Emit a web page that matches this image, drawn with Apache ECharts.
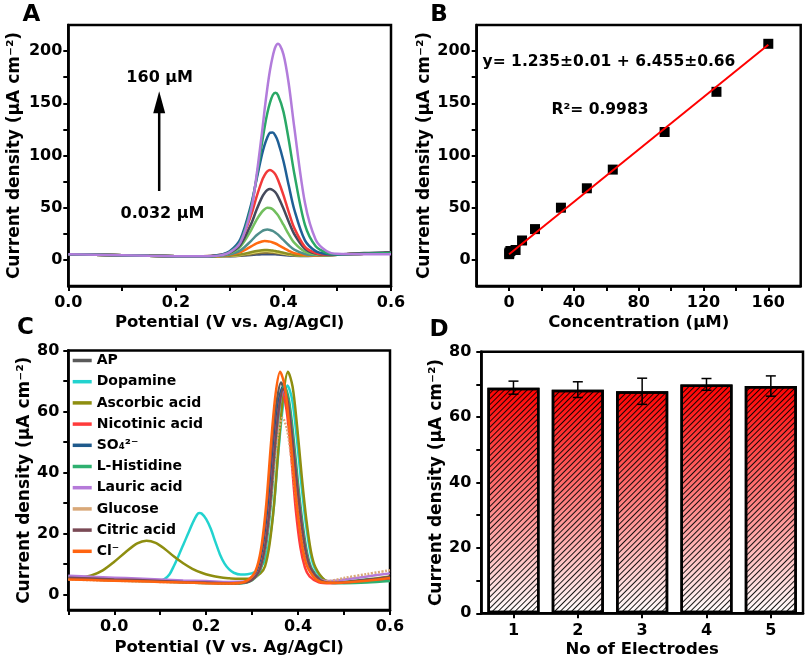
<!DOCTYPE html>
<html><head><meta charset="utf-8">
<script src="https://cdn.jsdelivr.net/npm/echarts@6/dist/echarts.min.js"></script>
<style>html,body{margin:0;padding:0;background:#fff}#c{width:808px;height:663px}</style>
</head><body><div id="c"></div><script>
// ---------- Panel A: DPV curves at increasing concentration ----------
const potentialA = [0, 0.05, 0.1, 0.15, 0.2, 0.25, 0.28, 0.3, 0.32, 0.34, 0.35, 0.36, 0.365, 0.37, 0.375, 0.38, 0.385, 0.39, 0.4, 0.41, 0.42, 0.44, 0.46, 0.48, 0.5, 0.55, 0.6];
const a0_032 = [5.5,5.0,4.5,4.0,3.6,3.4, 3.5,3.6,3.9,4.7,5.1,5.4,5.5,5.5,5.5,5.4,5.3,5.1,4.7,4.3,4.0,3.8,4.1,4.5,5.0,6.0,6.5];
const a0_16  = [5.5,5.0,4.5,4.0,3.6,3.4, 3.6,3.7,4.3,5.5,6.3,6.8,6.95,7.0,6.95,6.8,6.6,6.3,5.6,4.9,4.4,3.9,4.1,4.5,5.0,6.0,6.5];
const a0_8   = [5.5,5.0,4.5,4.0,3.6,3.4, 3.6,3.9,4.8,6.6,7.5,8.3,8.5,8.5,8.3,8.0,7.6,7.1,6.2,5.3,4.6,4.0,4.1,4.5,5.0,6.0,6.5];
const a4     = [5.5,5.0,4.5,4.0,3.6,3.4, 3.6,4.0,5.1,7.4,8.6,9.3,9.5,9.5,9.3,9.0,8.5,8.0,6.8,5.7,4.8,4.2,4.2,4.5,5.0,6.0,6.5];
const a8     = [5.5,5.0,4.5,4.0,3.6,3.4, 3.8,4.7,7.4,12.9,15.8,17.6,18.0,17.9,17.5,16.7,15.7,14.4,11.5,8.7,6.5,4.7,4.3,4.5,5.0,6.0,6.5];
const a16    = [5.5,5.0,4.5,4.0,3.6,3.4, 4.0,5.2,9.1,18.3,23.6,27.5,28.6,29,28.6,27.7,26.1,24.2,19.1,14.0,9.9,5.7,4.6,4.5,5.0,6.0,6.5];
const a32    = [5.5,5.0,4.5,4.0,3.6,3.4, 4.2,6.3,12.8,28.6,38.4,46.0,48.6,49.9,49.7,48.4,45.8,42.6,33.7,24.4,16.5,7.8,5.2,4.6,5.0,6.0,6.5];
const a48    = [5.5,5.0,4.5,4.0,3.6,3.4, 4.3,6.7,14.5,34.5,48.0,59.9,64.1,67.0,68,67.0,64.8,60.6,49.3,36.4,24.8,10.6,6.0,4.9,5.0,6.6,7.4];
const a64    = [5.5,5.0,4.5,4.0,3.6,3.4, 4.6,7.6,17.5,43.1,60.4,75.7,81.1,84.8,86,84.8,81.9,76.5,62.1,45.6,30.7,12.5,6.6,5.1,5.0,6.0,6.5];
const a96    = [5.5,5.0,4.5,4.0,3.6,3.4, 4.6,8.4,20.1,53.3,77.0,100.7,110.2,117.3,121.8,122,119.0,113.1,94.7,71.0,48.5,18.7,8.4,5.6,5.0,6.0,6.5];
const a128   = [5.5,5.0,4.5,4.0,3.6,3.4, 4.3,7.6,17.6,50.5,78.6,111.5,127.1,140.4,150.6,157.7,160,157.7,142.0,114.6,83.3,33.5,13.0,6.8,5.3,6.0,6.5];
const a160   = [5.5,5.0,4.5,4.0,3.6,3.4, 4.1,7.2,16.7,48.3,80.8,121.5,143.9,164.3,181.6,194.8,203.9,207,196.8,168.3,127.6,54.7,19.4,8.6,5.8,5.5,5.5];
const curvesA = [a0_032, a0_16, a0_8, a4, a8, a16, a32, a48, a64, a96, a128, a160];
const namesA = ['0.032','0.16','0.8','4','8','16','32','48','64','96','128','160'];
const colorsA = ['#3B4F7A','#86733A','#E3DC6E','#8C9023','#FF6A10','#4F8F8C','#72BF5E','#454A5C','#F23A3A','#1F5F96','#2AA866','#B27CDB'];

// ---------- Panel B: calibration ----------
const concB = [0.032, 0.16, 0.8, 4, 8, 16, 32, 48, 64, 96, 128, 160];
const densB = [5.5, 7, 8.5, 9.5, 18.6, 29.5, 50, 68.6, 86.5, 122.5, 161, 207];
const fitX = [0, 160];
const fitY = [5.5, 206];

// ---------- Panel C: interference ----------
const cAP = [[-0.1,5.5],[-0.05,5.3],[0,5.0],[0.05,4.8],[0.1,4.5],[0.15,4.2],[0.2,4.0],[0.25,3.8],[0.283,4.1],[0.303,6.1],[0.313,9.1],[0.323,16.0],[0.333,28.8],[0.343,47.2],[0.353,62.6],[0.363,69.5],[0.373,64.9],[0.383,52.4],[0.393,37.0],[0.403,23.5],[0.413,13.7],[0.423,8.6],[0.443,4.8],[0.463,3.9],[0.5,4.0],[0.55,4.5],[0.6,5.5]];
const cDopamine = [[-0.1,6.0],[-0.05,5.4],[0,5.0],[0.05,4.7],[0.1,4.6],[0.11,5.2],[0.12,6.6],[0.13,9.5],[0.14,12.8],[0.15,16.3],[0.16,19.8],[0.17,23.3],[0.18,26.2],[0.185,26.8],[0.19,26.6],[0.2,24.8],[0.21,21.6],[0.22,17.3],[0.23,13.2],[0.24,10.2],[0.25,8.3],[0.26,7.2],[0.275,6.6],[0.29,6.7],[0.307,7.5],[0.317,8.8],[0.327,11.0],[0.337,17.0],[0.347,28.4],[0.357,46.5],[0.367,61.7],[0.377,68.5],[0.387,64.0],[0.397,51.7],[0.407,36.5],[0.417,23.2],[0.427,13.5],[0.437,8.5],[0.457,4.8],[0.477,3.9],[0.5,4.2],[0.55,5.0],[0.6,5.5]];
const cAscorbic = [[-0.1,5.5],[-0.075,5.6],[-0.05,6.3],[-0.025,8.0],[0,10.8],[0.025,14.0],[0.05,16.8],[0.07,17.7],[0.09,17.0],[0.11,15.0],[0.13,12.5],[0.15,10.3],[0.17,8.5],[0.19,7.2],[0.21,6.3],[0.23,5.7],[0.25,5.4],[0.27,5.2],[0.298,5.3],[0.318,7.0],[0.328,9.3],[0.338,16.6],[0.348,30.1],[0.358,49.5],[0.368,65.7],[0.378,73],[0.388,68.2],[0.398,55.0],[0.408,38.7],[0.418,24.6],[0.428,14.2],[0.438,8.9],[0.458,4.8],[0.478,3.9],[0.5,4.2],[0.55,5.0],[0.6,6.0]];
const cNicotinic = [[-0.1,5.3],[-0.05,5.1],[0,4.8],[0.05,4.6],[0.1,4.4],[0.15,4.2],[0.2,4.0],[0.25,3.8],[0.285,4.1],[0.305,6.0],[0.315,8.9],[0.325,15.5],[0.335,27.8],[0.345,45.5],[0.355,60.4],[0.365,67],[0.375,60.4],[0.385,45.5],[0.395,27.8],[0.405,15.5],[0.415,8.9],[0.425,6.0],[0.445,4.1],[0.47,3.8],[0.5,4.0],[0.55,4.5],[0.6,5.0]];
const cSO4 = [[-0.1,5.4],[-0.05,5.2],[0,4.9],[0.05,4.7],[0.1,4.5],[0.15,4.2],[0.2,4.0],[0.25,3.8],[0.286,4.1],[0.306,6.0],[0.316,8.9],[0.326,15.7],[0.336,28.2],[0.346,46.2],[0.356,61.3],[0.366,68],[0.376,63.5],[0.386,51.3],[0.396,36.2],[0.406,23.1],[0.416,13.4],[0.426,8.5],[0.446,4.8],[0.466,3.9],[0.5,4.0],[0.55,4.8],[0.6,5.5]];
const cHistidine = [[-0.1,5.2],[-0.05,5.0],[0,4.7],[0.05,4.5],[0.1,4.3],[0.15,4.0],[0.2,3.8],[0.25,3.6],[0.29,4.1],[0.31,6.1],[0.32,9.0],[0.33,15.8],[0.34,28.4],[0.35,46.5],[0.36,61.7],[0.37,68.5],[0.38,64.0],[0.39,51.7],[0.4,36.5],[0.41,23.2],[0.42,13.5],[0.43,8.5],[0.45,4.8],[0.47,3.9],[0.5,3.8],[0.55,4.0],[0.6,4.5]];
const cLauric = [[-0.1,6.2],[-0.05,5.9],[0,5.6],[0.05,5.3],[0.1,5.0],[0.15,4.7],[0.2,4.5],[0.25,4.2],[0.288,4.4],[0.308,6.2],[0.318,8.9],[0.328,15.5],[0.338,27.8],[0.348,45.5],[0.358,60.4],[0.368,67],[0.378,62.6],[0.388,50.6],[0.398,35.7],[0.408,22.8],[0.418,13.3],[0.428,8.4],[0.448,5.0],[0.468,4.5],[0.5,5.0],[0.55,6.0],[0.6,7.0]];
const cGlucose = [[-0.1,5.0],[-0.05,4.8],[0,4.6],[0.05,4.4],[0.1,4.2],[0.15,4.0],[0.2,3.8],[0.25,3.7],[0.286,4.0],[0.306,5.7],[0.316,8.1],[0.326,13.8],[0.336,24.4],[0.346,39.6],[0.356,52.3],[0.366,58],[0.376,54.2],[0.386,43.9],[0.396,31.2],[0.406,20.1],[0.416,11.9],[0.426,7.8],[0.446,4.6],[0.466,4.5],[0.5,5.5],[0.55,6.8],[0.6,8.0]];
const cCitric = [[-0.1,5.6],[-0.05,5.3],[0,5.0],[0.05,4.8],[0.1,4.5],[0.15,4.2],[0.2,4.0],[0.25,3.8],[0.288,4.1],[0.308,6.0],[0.318,8.9],[0.328,15.6],[0.338,28.0],[0.348,45.8],[0.358,60.8],[0.368,67.5],[0.378,63.0],[0.388,50.9],[0.398,36.0],[0.408,22.9],[0.418,13.4],[0.428,8.5],[0.448,4.8],[0.468,3.9],[0.5,4.0],[0.55,4.8],[0.6,5.8]];
const cCl = [[-0.1,5.0],[-0.05,4.8],[0,4.6],[0.05,4.4],[0.1,4.2],[0.15,4.0],[0.2,3.8],[0.25,3.7],[0.281,4.1],[0.301,6.2],[0.311,9.3],[0.321,16.6],[0.331,30.1],[0.341,49.5],[0.351,65.7],[0.361,73],[0.371,68.2],[0.381,55.0],[0.391,38.7],[0.401,24.6],[0.411,14.2],[0.421,8.9],[0.441,4.8],[0.461,3.9],[0.5,4.0],[0.55,4.6],[0.6,5.5]];
const curvesC = [cAP, cDopamine, cAscorbic, cNicotinic, cSO4, cHistidine, cLauric, cGlucose, cCitric, cCl];
const namesC = ['AP','Dopamine','Ascorbic acid','Nicotinic acid','SO\u2084\u00B2\u207B','L-Histidine','Lauric acid','Glucose','Citric acid','Cl\u207B'];
const colorsC = ['#5A5A5A','#22D3CF','#8E8E10','#FF3B3B','#1F5A8C','#2FB070','#B57AD9','#D9A878','#7A4A55','#FF6410'];

// ---------- Panel D: reproducibility ----------
const electrodes = ['1','2','3','4','5'];
const densD = [69.0, 68.4, 67.9, 70.0, 69.5];
const errD = [2.0, 2.4, 4.0, 1.8, 3.1];

// ---------- Tick values ----------
const ticksAx = [0,0.1,0.2,0.3,0.4,0.5,0.6];
const labelsAx = [0,0.2,0.4,0.6];
const ticksAy = [0,25,50,75,100,125,150,175,200];
const labelsAy = [0,50,100,150,200];
const ticksBx = [0,20,40,60,80,100,120,140,160];
const labelsBx = [0,40,80,120,160];
const ticksCx = [-0.1,0,0.1,0.2,0.3,0.4,0.5,0.6];
const labelsCx = [0,0.2,0.4,0.6];
const ticksCy = [0,10,20,30,40,50,60,70,80];
const labelsCy = [0,20,40,60,80];

const FONT = '"DejaVu Sans", sans-serif';
const K = '#000';
const YNAME = 'Current density (\u03BCA cm\u207B\u00B2)';

function vAxis(o) {
  return {
    type: 'value', gridIndex: o.grid, min: o.min, max: o.max,
    name: o.name, nameLocation: 'middle', nameGap: o.nameGap, nameRotate: o.rotate,
    nameTextStyle: {color: K, fontFamily: FONT, fontWeight: 'bold', fontSize: o.rotate ? 17 : 16.5},
    axisLine: {show: true, onZero: false, lineStyle: {color: K, width: 2.5}},
    axisTick: {show: true, customValues: o.ticks, length: 5, lineStyle: {color: K, width: 2}},
    axisLabel: {customValues: o.labels, formatter: o.fmt, showMinLabel: true, showMaxLabel: true,
      color: K, fontFamily: FONT, fontWeight: 'bold', fontSize: 16, margin: o.margin},
    splitLine: {show: false}
  };
}
const fmt1 = v => Number(v).toFixed(1);
const fmt0 = v => String(Math.round(v));

const grids = [
  {left: 68.3, top: 25, width: 322.7, height: 261},
  {left: 476.7, top: 25, width: 324, height: 261},
  {left: 68.3, top: 350.5, width: 321.7, height: 259.5},
  {left: 481.3, top: 351.7, width: 321.7, height: 261.6}
].map(g => Object.assign(g, {show: true, borderColor: K, borderWidth: 2.5, backgroundColor: 'transparent'}));

const xAxes = [
  vAxis({grid: 0, min: 0, max: 0.6, ticks: ticksAx, labels: labelsAx, fmt: fmt1, margin: 9, name: 'Potential (V vs. Ag/AgCl)', nameGap: 28}),
  vAxis({grid: 1, min: -20, max: 180, ticks: ticksBx, labels: labelsBx, fmt: fmt0, margin: 9, name: 'Concentration (\u03BCM)', nameGap: 28}),
  vAxis({grid: 2, min: -0.1, max: 0.6, ticks: ticksCx, labels: labelsCx, fmt: fmt1, margin: 9, name: 'Potential (V vs. Ag/AgCl)', nameGap: 29}),
  {type: 'category', gridIndex: 3, data: electrodes, boundaryGap: true,
   name: 'No of Electrodes', nameLocation: 'middle', nameGap: 28,
   nameTextStyle: {color: K, fontFamily: FONT, fontWeight: 'bold', fontSize: 16.5},
   axisLine: {show: true, lineStyle: {color: K, width: 2.5}},
   axisTick: {show: true, alignWithLabel: true, length: 5, lineStyle: {color: K, width: 2}},
   axisLabel: {color: K, fontFamily: FONT, fontWeight: 'bold', fontSize: 16, margin: 10},
   splitLine: {show: false}}
];
const yAxes = [
  vAxis({grid: 0, min: -25, max: 225, ticks: ticksAy, labels: labelsAy, fmt: fmt0, margin: 6, name: YNAME, nameGap: 45, rotate: 90}),
  vAxis({grid: 1, min: -25, max: 225, ticks: ticksAy, labels: labelsAy, fmt: fmt0, margin: 6, name: YNAME, nameGap: 42, rotate: 90}),
  vAxis({grid: 2, min: -5, max: 80, ticks: ticksCy, labels: labelsCy, fmt: fmt0, margin: 9, name: YNAME, nameGap: 34, rotate: 90}),
  vAxis({grid: 3, min: 0, max: 80, ticks: ticksCy, labels: labelsCy, fmt: fmt0, margin: 10, name: YNAME, nameGap: 33, rotate: 90})
];

const series = [];
curvesA.forEach((ys, i) => {
  series.push({type: 'line', name: namesA[i] + ' \u03BCM', xAxisIndex: 0, yAxisIndex: 0,
    data: potentialA.map((x, j) => [x, ys[j]]), symbol: 'none', smooth: 0.3,
    lineStyle: {color: colorsA[i], width: 2.5}, itemStyle: {color: colorsA[i]}, z: 2 + i});
});
series.push({type: 'scatter', name: 'measured', xAxisIndex: 1, yAxisIndex: 1,
  data: concB.map((c, i) => [c, densB[i]]), symbol: 'rect', symbolSize: 10, itemStyle: {color: K, opacity: 1}, z: 3});
series.push({type: 'line', name: 'fit', xAxisIndex: 1, yAxisIndex: 1,
  data: fitX.map((x, i) => [x, fitY[i]]), symbol: 'none', lineStyle: {color: '#FF0000', width: 2}, z: 4});
curvesC.forEach((pts, i) => {
  series.push({type: 'line', name: namesC[i], xAxisIndex: 2, yAxisIndex: 2,
    data: pts, symbol: 'none', smooth: 0.3,
    lineStyle: {color: colorsC[i], width: 2.5, type: namesC[i] === 'Glucose' ? [2, 1.5] : 'solid'},
    itemStyle: {color: colorsC[i]}, z: 2 + i});
});
series.push({type: 'bar', name: 'electrodes', xAxisIndex: 3, yAxisIndex: 3, data: densD, barWidth: '81%',
  itemStyle: {
    color: {type: 'linear', x: 0, y: 0, x2: 0, y2: 1, colorStops: [{offset: 0, color: '#FF0000'}, {offset: 1, color: '#FFFFFF'}]},
    borderColor: K, borderWidth: 2.5,
    decal: {symbol: 'rect', symbolSize: 1, dashArrayX: [1, 0], dashArrayY: [1, 3], rotation: -Math.PI / 4, color: 'rgba(0,0,0,0.9)', backgroundColor: null}
  }, z: 2});
series.push({type: 'custom', name: 'error', xAxisIndex: 3, yAxisIndex: 3,
  data: densD.map((v, i) => [i, v + errD[i], v - errD[i]]),
  renderItem: function (params, api) {
    const hi = api.coord([api.value(0), api.value(1)]);
    const lo = api.coord([api.value(0), api.value(2)]);
    const w = 5;
    const st = {stroke: K, lineWidth: 1.5};
    return {type: 'group', children: [
      {type: 'line', shape: {x1: hi[0], y1: hi[1], x2: lo[0], y2: lo[1]}, style: st},
      {type: 'line', shape: {x1: hi[0] - w, y1: hi[1], x2: hi[0] + w, y2: hi[1]}, style: st},
      {type: 'line', shape: {x1: lo[0] - w, y1: lo[1], x2: lo[0] + w, y2: lo[1]}, style: st}
    ]};
  }, z: 5});

const chart = echarts.init(document.getElementById('c'), null, {renderer: 'canvas', width: 808, height: 663});
const option = {
  animation: false,
  backgroundColor: '#fff',
  textStyle: {fontFamily: FONT},
  grid: grids, xAxis: xAxes, yAxis: yAxes, series: series,
  legend: {data: namesC, orient: 'vertical', left: 72.7, top: 353.5, padding: 0,
    icon: 'rect', itemWidth: 19, itemHeight: 3.5, itemGap: 7.2,
    textStyle: {color: K, fontFamily: FONT, fontWeight: 'bold', fontSize: 14, lineHeight: 14}}
};
chart.setOption(option);

// annotations
const arrowX = 0.169, arrowFromY = 66, arrowToY = 161.5;
const pBase = chart.convertToPixel({gridIndex: 0}, [arrowX, arrowFromY]);
const pTip = chart.convertToPixel({gridIndex: 0}, [arrowX, arrowToY]);
function txt(s, x, y, size) {
  return {type: 'text', x: x, y: y, z: 100, style: {text: s, fill: K, font: 'bold ' + size + 'px ' + FONT, textAlign: 'center', textVerticalAlign: 'middle'}};
}
chart.setOption({graphic: [
  txt('A', 31.5, 15, 23), txt('B', 439, 15, 23), txt('C', 25.5, 328, 23), txt('D', 439, 330, 23),
  txt('160 \u03BCM', 159.7, 78, 16), txt('0.032 \u03BCM', 162.5, 213.5, 16),
  txt('y= 1.235\u00B10.01 + 6.455\u00B10.66', 609, 62, 15.5), txt('R\u00B2= 0.9983', 600, 110, 15.5),
  {type: 'line', z: 100, shape: {x1: pBase[0], y1: pBase[1], x2: pTip[0], y2: pTip[1] + 18}, style: {stroke: K, lineWidth: 2.5}},
  {type: 'polygon', z: 100, shape: {points: [[pTip[0], pTip[1]], [pTip[0] - 6, pTip[1] + 22], [pTip[0] + 6, pTip[1] + 22]]}, style: {fill: K}}
]});
</script></body></html>
